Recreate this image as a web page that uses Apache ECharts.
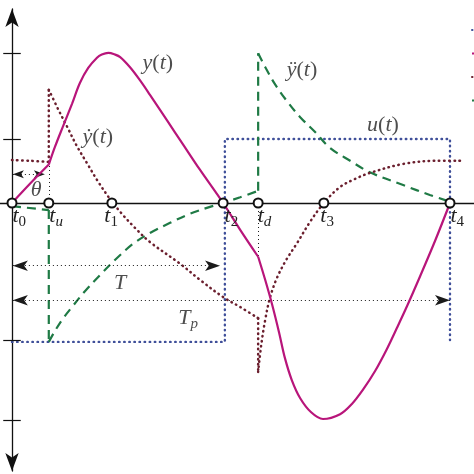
<!DOCTYPE html>
<html>
<head>
<meta charset="utf-8">
<style>
  html, body { margin: 0; padding: 0; background: #fff; }
  #chart { width: 474px; height: 474px; }
</style>
<script src="https://cdn.jsdelivr.net/npm/echarts@6/dist/echarts.min.js"></script>
</head>
<body>
<div id="chart"></div>
<script>
// time instants on the horizontal axis (t4 = 10)
const tNames = ['0', 'u', '1', '2', 'd', '3', '4'];
const tValues = [0, 0.84, 2.28, 4.82, 5.62, 7.12, 10];
// instants where the curves switch (tu, td)
const switchTimes = [0.84, 5.62];

// y(t)
const yPos = [
  [0, 0], [0.41, 0.3], [0.84, 0.6], [0.98, 0.875], [1.16, 1.19], [1.37, 1.55],
  [1.55, 1.875], [1.74, 2.11], [1.94, 2.27], [2.05, 2.32], [2.2, 2.345], [2.35, 2.32],
  [2.47, 2.28], [2.69, 2.125], [2.92, 1.92], [3.15, 1.69], [3.54, 1.29], [3.9, 0.92],
  [4.29, 0.52], [4.82, 0], [5.21, -0.42], [5.62, -0.84], [5.78, -1.2], [5.94, -1.59],
  [6.1, -2.03], [6.23, -2.42], [6.39, -2.77], [6.58, -3.05], [6.83, -3.27], [7.1, -3.375],
  [7.49, -3.3], [7.76, -3.14], [8.01, -2.92], [8.29, -2.625], [8.56, -2.28], [8.79, -1.95],
  [9.02, -1.61], [9.32, -1.14], [9.66, -0.59], [10, 0]
];

// y'(t)
const yVel = [
  [0, 0.67], [0.41, 0.66], [0.84, 0.64], [0.84, 1.77], [1.05, 1.47], [1.26, 1.19],
  [1.48, 0.89], [1.71, 0.625], [1.96, 0.34], [2.24, 0.06], [2.51, -0.17], [2.81, -0.39],
  [3.15, -0.61], [3.84, -0.95], [4.29, -1.2], [4.82, -1.47], [5.21, -1.625], [5.62, -1.8],
  [5.62, -2.64], [5.69, -2.22], [5.78, -1.83], [5.89, -1.48], [6.05, -1.17], [6.26, -0.89],
  [6.51, -0.625], [6.8, -0.3], [7.12, 0], [7.49, 0.25], [7.83, 0.375], [8.17, 0.47],
  [8.93, 0.61], [9.7, 0.66], [10.23, 0.66]
];

// y''(t)
const yAcc = [
  [0, -0.05], [0.84, -0.11], [0.84, -2.17], [0.98, -2.0], [1.16, -1.81], [1.37, -1.625],
  [1.67, -1.375], [2.01, -1.125], [2.35, -0.89], [2.76, -0.64], [3.15, -0.47], [3.61, -0.31],
  [4.06, -0.17], [4.52, -0.06], [4.82, 0], [5.21, 0.09], [5.62, 0.19], [5.62, 2.34],
  [5.78, 2.125], [6.0, 1.86], [6.28, 1.59], [6.58, 1.34], [6.92, 1.11], [7.26, 0.86],
  [7.72, 0.66], [8.17, 0.48], [8.93, 0.28], [9.54, 0.125], [10, 0.02]
];

// u(t)
const uInput = [[0, -2.17], [4.86, -2.17], [4.86, 1.0], [10, 1.0], [10, -2.17]];

// vertical axis ticks
const tickValues = [2.34, 1.0, -2.14, -3.39];

// dimension arrows: [from, to, level]
const thetaArrow = [0.02, 0.75, 0.45];
const periodArrow = [0.02, 4.75, -0.98];
const periodPArrow = [0.02, 10, -1.52];
// guide lines at tu and td: [t, from, to]
const guides = [[0.84, 0, 0.625], [5.62, 0, -0.86]];

// curve / symbol labels: [text, x, y]
const notes = [
  ['y', 3.33, 2.19],
  ['yd', 1.96, 1.02],
  ['ydd', 6.62, 2.08],
  ['u', 8.47, 1.22],
  ['theta', 0.55, 0.2],
  ['T', 2.47, -1.25],
  ['Tp', 4.02, -1.82]
];

const C_Y = '#b8157a', C_YD = '#6b1f2e', C_YDD = '#1f7a45', C_U = '#3f4f99';
const SERIF = '"Liberation Serif", "DejaVu Serif", serif';
const dotted = [0.5, 4.6];

const noteText = {
  y: '{i|y}{r|(}{i|t}{r|)}',
  yd: '{i|ẏ}{r|(}{i|t}{r|)}',
  ydd: '{i|ÿ}{r|(}{i|t}{r|)}',
  u: '{i|u}{r|(}{i|t}{r|)}',
  theta: '{i|θ}',
  T: '{i|T}',
  Tp: '{m|T}{s|p}'
};
const rich = {
  i: { fontFamily: SERIF, fontStyle: 'italic', fontSize: 22, color: '#222' },
  r: { fontFamily: SERIF, fontSize: 22, color: '#222' },
  m: { fontFamily: SERIF, fontStyle: 'italic', fontSize: 22, color: '#222', padding: [0, 0, 2, 0], verticalAlign: 'bottom' },
  s: { fontFamily: SERIF, fontStyle: 'italic', fontSize: 15, color: '#222', verticalAlign: 'bottom' },
  n: { fontFamily: SERIF, fontSize: 15, color: '#222', verticalAlign: 'bottom' }
};
// label nudges for the t_i labels (text left/top offset from symbol box)
const tNudge = [[6, 8], [6, 8], [-2, 8], [7, 8], [5, 8], [2, 8], [6, 8]];

// split a curve at the switch instants so kinks and jumps stay sharp
function pieces(pts) {
  const out = [];
  let cur = [];
  pts.forEach(p => {
    cur.push(p);
    if (switchTimes.indexOf(p[0]) >= 0 && cur.length > 1) {
      out.push(cur);
      cur = [p];
    }
  });
  if (cur.length > 1) out.push(cur);
  return out;
}

function curve(name, pts, z, lineStyle, color) {
  return pieces(pts).map(seg => ({
    name: name, type: 'line', data: seg, symbol: 'none', z: z,
    smooth: seg.length > 2 ? 0.35 : false,
    lineStyle: Object.assign({ color: color }, lineStyle), itemStyle: { color: color }
  }));
}

const chart = echarts.init(document.getElementById('chart'), null, { renderer: 'canvas' });

const arrowLine = (a, size) => [[{ coord: [a[0], a[2]], symbol: 'arrow', symbolSize: size },
                                 { coord: [a[1], a[2]], symbol: 'arrow', symbolSize: size }]];

const option = {
  animation: false,
  backgroundColor: '#fff',
  grid: { left: 0, right: 0, top: 9, bottom: 3 },
  legend: {
    orient: 'vertical', left: 466, top: 19, itemWidth: 25, itemHeight: 14, itemGap: 11.5,
    data: ['u', 'y', 'yd', 'ydd'], textStyle: { fontSize: 12 }, selectedMode: false
  },
  xAxis: {
    type: 'value', min: -0.274, max: 10.548,
    axisLine: { show: true, onZero: true, lineStyle: { color: '#111', width: 1.3 } },
    axisTick: { show: false }, axisLabel: { show: false }, splitLine: { show: false }
  },
  yAxis: {
    type: 'value', min: -4.1875, max: 3.031,
    axisLine: {
      show: true, onZero: true, symbol: ['arrow', 'arrow'], symbolSize: [10, 18],
      lineStyle: { color: '#111', width: 1.3 }
    },
    axisTick: { show: false }, axisLabel: { show: false }, splitLine: { show: false }
  },
  series: [
    {
      name: 'guides', type: 'line', data: [], silent: true,
      markLine: {
        silent: true, symbol: 'none', label: { show: false },
        lineStyle: { color: '#1a1a1a', width: 1, type: [1, 3] },
        data: guides.map(g => [{ coord: [g[0], g[1]] }, { coord: [g[0], g[2]] }])
          .concat(arrowLine(thetaArrow, [6, 11]))
          .concat(arrowLine(periodArrow, [8, 15]))
          .concat(arrowLine(periodPArrow, [8, 15]))
      }
    },
    {
      name: 'ticks', type: 'line', data: [], silent: true,
      markLine: {
        silent: true, symbol: 'none', label: { show: false },
        lineStyle: { color: '#111', width: 1.2, type: 'solid' },
        data: tickValues.map(v => [{ coord: [-0.2, v] }, { coord: [0.2, v] }])
      }
    },
    {
      name: 'u', type: 'line', data: uInput, symbol: 'none', z: 3,
      lineStyle: { color: C_U, width: 2.4, type: dotted, cap: 'round' }, itemStyle: { color: C_U }
    }
  ]
    .concat(curve('ydd', yAcc, 4, { width: 2.2, type: [9, 6] }, C_YDD))
    .concat(curve('yd', yVel, 4, { width: 2.5, type: dotted, cap: 'round' }, C_YD))
    .concat(curve('y', yPos, 5, { width: 2.2 }, C_Y))
    .concat([
      {
        name: 'instants', type: 'scatter', z: 10, silent: true,
        data: tValues.map((t, k) => ({
          value: [t, 0],
          label: { position: tNudge[k] }
        })),
        symbol: 'circle', symbolSize: 9,
        itemStyle: { color: '#fff', borderColor: '#111', borderWidth: 2, opacity: 1 },
        label: {
          show: true, rich: rich,
          formatter: p => {
            const s = tNames[p.dataIndex];
            return '{m|t}' + (/\d/.test(s) ? '{n|' + s + '}' : '{s|' + s + '}');
          }
        }
      },
      {
        name: 'notes', type: 'scatter', z: 11, silent: true,
        data: notes.map(n => ({ value: [n[1], n[2]], name: n[0] })),
        symbol: 'circle', symbolSize: 1, itemStyle: { color: 'rgba(0,0,0,0)' },
        label: {
          show: true, position: 'inside', color: '#222', rich: rich,
          formatter: p => noteText[p.name]
        }
      }
    ])
};

chart.setOption(option);
</script>
</body>
</html>
